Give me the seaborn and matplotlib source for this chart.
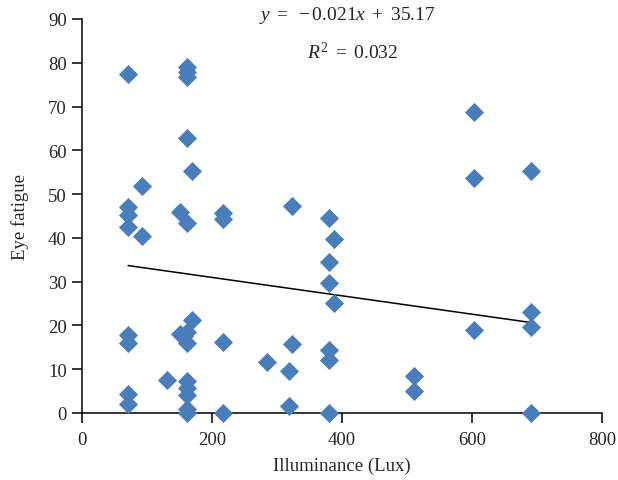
import numpy as np
import pandas as pd
import matplotlib
matplotlib.use("Agg")
import matplotlib.pyplot as plt
import seaborn as sns

# illuminance (lux) and eye fatigue scores
illuminance = [71, 71, 71, 71, 71, 71, 71, 71,
               92, 92,
               131,
               150, 150,
               157,
               161, 161, 161, 161, 161, 161, 161, 161, 161, 161, 161, 161,
               169, 169,
               217, 217, 217, 217,
               284,
               318, 318,
               323, 323,
               380, 380, 380, 380, 380, 380,
               388, 388,
               510, 510,
               603, 603, 603,
               691, 691, 691, 691]
fatigue = [77.4, 47.0, 45.3, 42.4, 17.8, 16.1, 4.3, 2.1,
           51.8, 40.5,
           7.6,
           46.0, 18.0,
           17.5,
           79.0, 78.0, 76.7, 62.8, 43.4, 18.4, 16.1, 7.4, 5.6, 4.0, 1.0, 0.0,
           55.3, 21.3,
           45.7, 44.3, 16.3, 0.0,
           11.6,
           9.7, 1.7,
           47.2, 15.8,
           44.6, 34.6, 29.8, 14.5, 12.2, 0.0,
           39.7, 25.1,
           8.5, 5.0,
           68.7, 53.7, 19.0,
           55.2, 23.0, 19.6, 0.0]

# trendline from the figure
slope = -0.021
intercept = 35.17
r2 = 0.032

df = pd.DataFrame({'Illuminance': illuminance, 'Fatigue': fatigue})

sns.set_style("white")
plt.rcParams['font.family'] = ['Liberation Serif', 'DejaVu Serif']
plt.rcParams['mathtext.fontset'] = 'custom'
plt.rcParams['mathtext.rm'] = 'Liberation Serif'
plt.rcParams['mathtext.it'] = 'Liberation Serif:italic'

fig = plt.figure(figsize=(6.18, 4.81), dpi=100)
ax = fig.add_axes([82 / 618, 1 - 414 / 481, 520 / 618, 394 / 481])

sns.scatterplot(data=df, x='Illuminance', y='Fatigue', marker='D', s=95,
                color='#4a7ebb', linewidth=0, ax=ax, clip_on=False, zorder=3)

xs = np.array([min(illuminance), max(illuminance)])
ax.plot(xs, slope * xs + intercept, color='black', linewidth=1.1, zorder=2)

ax.set_xlim(0, 800)
ax.set_ylim(0, 90)
ax.set_xticks([0, 200, 400, 600, 800])
ax.set_yticks(range(0, 91, 10))
ax.tick_params(axis='both', labelsize=13.5, length=7, width=1.1,
               color='black', direction='out', left=True, bottom=True)
ax.tick_params(axis='y', pad=4)
ax.tick_params(axis='x', pad=6)

for side in ['top', 'right']:
    ax.spines[side].set_visible(False)
for side in ['left', 'bottom']:
    ax.spines[side].set_color('black')
    ax.spines[side].set_linewidth(1.1)

ax.set_xlabel('Illuminance (Lux)', fontsize=13.5, labelpad=6)
ax.set_ylabel('Eye fatigue', fontsize=13.5, labelpad=14)

eq = r'$y\ =\ \u2212%.3fx\ +\ %.2f$' % (abs(slope), intercept)
fig.text(347 / 618, 1 - 15 / 481, eq.replace(r'\u2212', '\u2212'),
         ha='center', va='center', fontsize=14)
fig.text(353 / 618, 1 - 53 / 481, r'$R^{2}\ =\ %.3f$' % r2,
         ha='center', va='center', fontsize=14)

plt.savefig('out.png', dpi=100)
